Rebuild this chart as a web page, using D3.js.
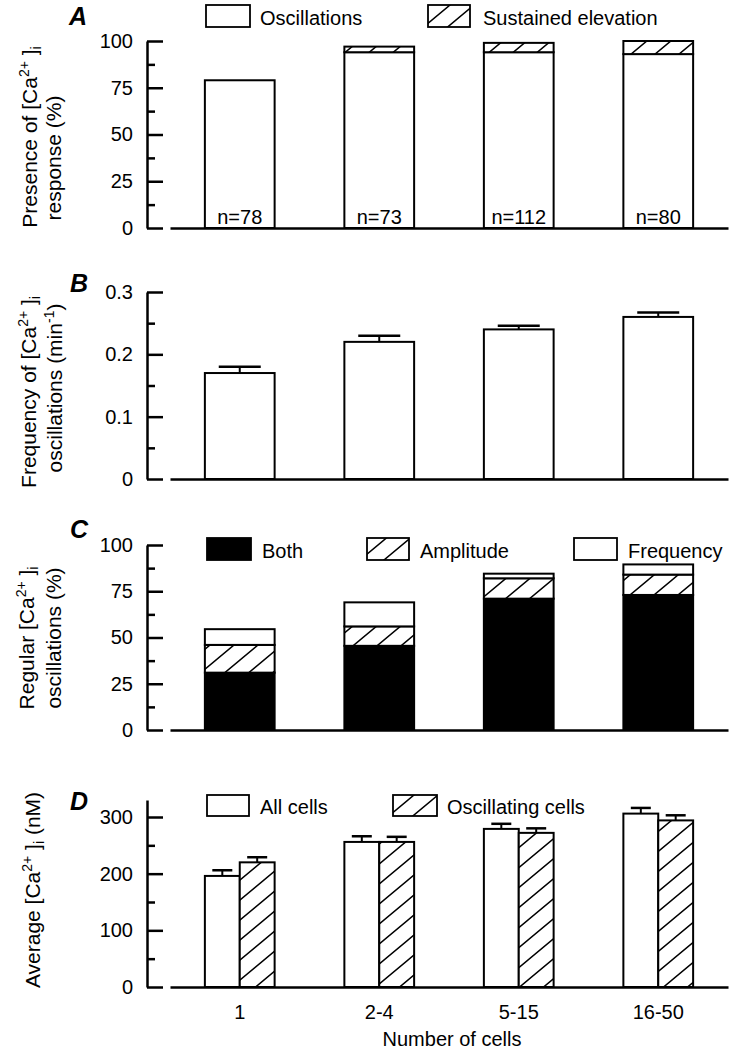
<!DOCTYPE html>
<html>
<head>
<meta charset="utf-8">
<script src="https://cdn.jsdelivr.net/npm/d3@7"></script>
<style>
  html, body { margin: 0; padding: 0; background: #fff; }
  svg { display: block; font-family: "Liberation Sans", Arial, Helvetica, sans-serif; }
</style>
</head>
<body>
<svg id="chart" width="737" height="1054"></svg>
<script>
// ---------- DATA ----------
const categories = ["1", "2-4", "5-15", "16-50"];
const nLabels = ["n=78", "n=73", "n=112", "n=80"];

// Panel A: presence of response (%)
const presenceOscillations = [79, 94, 94, 93];
const presenceSustained = [0, 3, 5, 7];

// Panel B: frequency of oscillations (min^-1)
const freqMean = [0.17, 0.22, 0.24, 0.26];
const freqSem = [0.01, 0.01, 0.006, 0.007];

// Panel C: regular oscillations (%)
const regularBoth = [31, 45.5, 71, 73];
const regularAmplitude = [15, 10.5, 11, 11];
const regularFrequency = [8.5, 13, 2.5, 5.5];

// Panel D: average [Ca2+]i (nM)
const caAllCells = [196, 256, 279, 306];
const caAllCellsSem = [10, 10, 9, 10];
const caOscCells = [220, 256, 272, 294];
const caOscCellsSem = [9, 9, 8, 9];

// Tick values
const ticksPct = [0, 25, 50, 75, 100];
const minorPct = [12.5, 37.5, 62.5, 87.5];
const ticksFreq = [0, 0.1, 0.2, 0.3];
const minorFreq = [0.05, 0.15, 0.25];
const ticksCa = [0, 100, 200, 300];
const minorCa = [50, 150, 250];

// ---------- LAYOUT ----------
const svg = d3.select("#chart");
const AXIS_X = 147, X0 = 170, X1 = 728;
const FONT_TICK = 20, FONT_LAB = 20, FONT_YLAB = 21;

const defs = svg.append("defs");
const pat = defs.append("pattern").attr("id", "hatch")
  .attr("patternUnits", "userSpaceOnUse").attr("width", 24).attr("height", 20);
pat.append("rect").attr("width", 24).attr("height", 20).attr("fill", "#fff");
pat.append("path").attr("d", "M0,20 L24,0 M-6,5 L6,-5 M18,25 L30,15")
  .attr("stroke", "#000").attr("stroke-width", 1.5);

const x = d3.scaleBand().domain(categories).range([X0, X1])
  .paddingInner(0.5).paddingOuter(0.25);

function yAxis(y, major, minor, fmt) {
  const g = svg.append("g").attr("transform", `translate(${AXIS_X},0)`);
  g.call(d3.axisLeft(y).tickValues(major).tickSizeInner(-16).tickSizeOuter(0)
    .tickPadding(14).tickFormat(fmt));
  g.append("g").call(d3.axisLeft(y).tickValues(minor).tickSizeInner(-8)
    .tickSizeOuter(0).tickFormat(""))
    .select(".domain").remove();
  g.selectAll("line").attr("stroke", "#000").attr("stroke-width", 2.5);
  g.selectAll(".domain").attr("stroke", "#000").attr("stroke-width", 2.5);
  g.selectAll("text").attr("font-size", FONT_TICK).attr("fill", "#000")
    .attr("font-family", "Liberation Sans, Arial, sans-serif");
  return g;
}

function xAxis(y0, withLabels) {
  const g = svg.append("g").attr("transform", `translate(0,${y0})`);
  g.call(d3.axisBottom(x).tickSize(0).tickSizeOuter(0).tickPadding(18)
    .tickFormat(withLabels ? (d => d) : ""));
  g.select(".domain").attr("stroke", "#000").attr("stroke-width", 2.5);
  g.selectAll("text").attr("font-size", FONT_TICK).attr("fill", "#000")
    .attr("font-family", "Liberation Sans, Arial, sans-serif");
  return g;
}

function panelLetter(t, xx, yy) {
  svg.append("text").attr("x", xx).attr("y", yy).attr("font-size", 25)
    .attr("font-style", "italic").attr("font-weight", "bold").text(t);
}

// segments: [text, kind] kind: "n" normal, "sup", "sub"
function rotLabel(segments, bx, cy, size) {
  const t = svg.append("text")
    .attr("transform", `translate(${bx},${cy}) rotate(-90)`)
    .attr("text-anchor", "middle").attr("font-size", size);
  let shift = 0;
  segments.forEach(([s, k]) => {
    const target = k === "sup" ? -8 : (k === "sub" ? 4 : 0);
    t.append("tspan").attr("dy", target - shift)
      .attr("font-size", k === "n" ? size : 14).text(s);
    shift = target;
  });
}

function legendItem(xb, yb, w, h, fill, label, tx) {
  svg.append("rect").attr("x", xb).attr("y", yb).attr("width", w).attr("height", h)
    .attr("fill", fill).attr("stroke", "#000").attr("stroke-width", 1.8);
  svg.append("text").attr("x", tx).attr("y", yb + h - 2).attr("font-size", FONT_LAB)
    .text(label);
}

function errBars(xc, yTop, yCap, capW) {
  svg.append("line").attr("x1", xc).attr("x2", xc).attr("y1", yTop).attr("y2", yCap)
    .attr("stroke", "#000").attr("stroke-width", 2);
  svg.append("line").attr("x1", xc - capW / 2).attr("x2", xc + capW / 2)
    .attr("y1", yCap).attr("y2", yCap).attr("stroke", "#000").attr("stroke-width", 2.5);
}

// ---------- PANEL A ----------
{
  const y = d3.scaleLinear().domain([0, 100]).range([228, 41]);
  const rows = categories.map((c, i) => ({ cat: c, osc: presenceOscillations[i], sus: presenceSustained[i] }));
  const stack = d3.stack().keys(["osc", "sus"])(rows);
  const fills = { osc: "#fff", sus: "url(#hatch)" };
  stack.forEach(layer => {
    svg.append("g").selectAll("rect").data(layer.filter(d => d[1] - d[0] > 0)).join("rect")
      .attr("x", d => x(d.data.cat)).attr("width", x.bandwidth())
      .attr("y", d => y(d[1])).attr("height", d => y(d[0]) - y(d[1]))
      .attr("fill", fills[layer.key]).attr("stroke", "#000").attr("stroke-width", 2);
  });
  svg.append("g").selectAll("text").data(categories).join("text")
    .attr("x", d => x(d) + x.bandwidth() / 2).attr("y", 224)
    .attr("text-anchor", "middle").attr("font-size", FONT_TICK)
    .text((d, i) => nLabels[i]);
  xAxis(228, false);
  yAxis(y, ticksPct, minorPct, d3.format("d"));
  panelLetter("A", 69, 25);
  legendItem(206, 5, 44, 22, "#fff", "Oscillations", 260);
  legendItem(428, 5, 42, 22, "url(#hatch)", "Sustained elevation", 483);
  rotLabel([["Presence of [Ca", "n"], ["2+", "sup"], [" ]", "n"], ["i", "sub"]], 37, 137, FONT_YLAB);
  rotLabel([["response (%)", "n"]], 61, 158, FONT_YLAB);
}

// ---------- PANEL B ----------
{
  const y = d3.scaleLinear().domain([0, 0.3]).range([479, 292]);
  svg.append("g").selectAll("rect").data(categories).join("rect")
    .attr("x", d => x(d)).attr("width", x.bandwidth())
    .attr("y", (d, i) => y(freqMean[i])).attr("height", (d, i) => y(0) - y(freqMean[i]))
    .attr("fill", "#fff").attr("stroke", "#000").attr("stroke-width", 2);
  categories.forEach((c, i) => {
    errBars(x(c) + x.bandwidth() / 2, y(freqMean[i]), y(freqMean[i] + freqSem[i]), 42);
  });
  xAxis(479, false);
  yAxis(y, ticksFreq, minorFreq, d => d === 0 ? "0" : d3.format(".1f")(d));
  panelLetter("B", 70, 292);
  rotLabel([["Frequency of [Ca", "n"], ["2+", "sup"], [" ]", "n"], ["i", "sub"]], 36, 392, FONT_YLAB);
  rotLabel([["oscillations (min", "n"], ["-1", "sup"], [")", "n"]], 62, 388, FONT_YLAB);
}

// ---------- PANEL C ----------
{
  const y = d3.scaleLinear().domain([0, 100]).range([730, 545]);
  const rows = categories.map((c, i) => ({ cat: c, both: regularBoth[i], amp: regularAmplitude[i], freq: regularFrequency[i] }));
  const stack = d3.stack().keys(["both", "amp", "freq"])(rows);
  const fills = { both: "#000", amp: "url(#hatch)", freq: "#fff" };
  stack.forEach(layer => {
    svg.append("g").selectAll("rect").data(layer).join("rect")
      .attr("x", d => x(d.data.cat)).attr("width", x.bandwidth())
      .attr("y", d => y(d[1])).attr("height", d => y(d[0]) - y(d[1]))
      .attr("fill", fills[layer.key]).attr("stroke", "#000").attr("stroke-width", 2);
  });
  xAxis(730, false);
  yAxis(y, ticksPct, minorPct, d3.format("d"));
  panelLetter("C", 70, 538);
  legendItem(207, 538, 44, 22, "#000", "Both", 262);
  legendItem(367, 538, 42, 22, "url(#hatch)", "Amplitude", 420);
  legendItem(574, 538, 43, 22, "#fff", "Frequency", 628);
  rotLabel([["Regular [Ca", "n"], ["2+", "sup"], [" ]", "n"], ["i", "sub"]], 34, 638, FONT_YLAB);
  rotLabel([["oscillations (%)", "n"]], 61, 638, FONT_YLAB);
}

// ---------- PANEL D ----------
{
  const y = d3.scaleLinear().domain([0, 330]).range([987, 800]);
  const sub = d3.scaleBand().domain(["all", "osc"]).range([0, x.bandwidth()]);
  const series = [
    { key: "all", vals: caAllCells, sem: caAllCellsSem, fill: "#fff" },
    { key: "osc", vals: caOscCells, sem: caOscCellsSem, fill: "url(#hatch)" }
  ];
  series.forEach(s => {
    svg.append("g").selectAll("rect").data(categories).join("rect")
      .attr("x", d => x(d) + sub(s.key)).attr("width", sub.bandwidth())
      .attr("y", (d, i) => y(s.vals[i])).attr("height", (d, i) => y(0) - y(s.vals[i]))
      .attr("fill", s.fill).attr("stroke", "#000").attr("stroke-width", 2);
    categories.forEach((c, i) => {
      errBars(x(c) + sub(s.key) + sub.bandwidth() / 2, y(s.vals[i]), y(s.vals[i] + s.sem[i]), 20);
    });
  });
  xAxis(987, true);
  yAxis(y, ticksCa, minorCa, d3.format("d"));
  panelLetter("D", 70, 810);
  legendItem(207, 795, 42, 21, "#fff", "All cells", 260);
  legendItem(393, 795, 44, 21, "url(#hatch)", "Oscillating cells", 447);
  rotLabel([["Average [Ca", "n"], ["2+", "sup"], [" ]", "n"], ["i", "sub"], [" (nM)", "n"]], 40, 890, FONT_YLAB);
  svg.append("text").attr("x", 452).attr("y", 1046).attr("text-anchor", "middle")
    .attr("font-size", FONT_LAB).text("Number of cells");
}
</script>
</body>
</html>
